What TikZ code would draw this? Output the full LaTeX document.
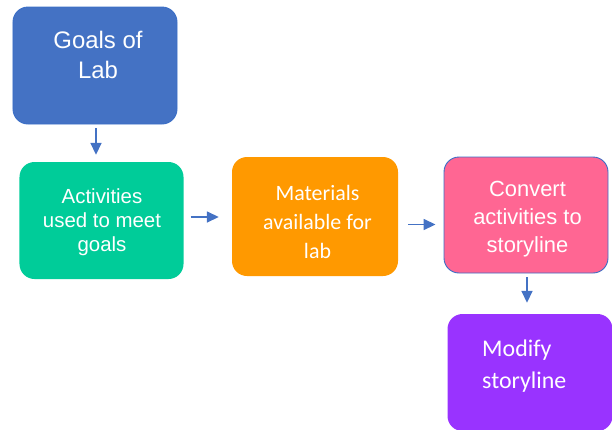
\documentclass[tikz,border=0pt]{standalone}
\usepackage{fontspec}
\setmainfont{Liberation Sans}
\newfontfamily\calibri{Carlito}
\usetikzlibrary{arrows.meta, positioning}
\definecolor{goalblue}{HTML}{4472C4}
\definecolor{edgeblue}{HTML}{3A6EC6}
\definecolor{actgreen}{HTML}{00CC99}
\definecolor{matorange}{HTML}{FF9900}
\definecolor{convpink}{HTML}{FF6693}
\definecolor{modpurple}{HTML}{9933FF}
\tikzset{x=1bp, y=-1bp,
    flowbox/.style={rounded corners=15bp, minimum width=164bp,
        minimum height=117bp, inner sep=0pt},
    edged/.style={draw=edgeblue, line width=0.9bp},
    boxtext/.style={text=white, align=center, inner sep=0pt, anchor=base},
    flowarrow/.style={draw=goalblue, line width=1.6bp,
        -{Triangle[length=12bp,width=11bp]}}}

\begin{document}
\begin{tikzpicture}
\clip (0,0) rectangle (612,429);
% boxes
\node[flowbox, edged, fill=goalblue]  (goals) at (95,65.5)    {};
\node[flowbox, fill=actgreen]         (act)   at (101.5,220.5) {};
\node[flowbox, fill=matorange, minimum width=166bp,
      minimum height=119bp]           (mat)   at (315,216.5)   {};
\node[flowbox, edged, fill=convpink,
      minimum height=116bp]           (conv)  at (526,215)     {};
\node[flowbox, fill=modpurple, minimum width=165bp] (mod) at (530,372.5) {};
% texts (placed at the baseline of the last line)
\node[boxtext, font=\fontsize{24}{30}\selectfont] (goalstext) at (98,78) {Goals of\\Lab};
\node[boxtext, font=\fontsize{20.5}{24}\selectfont] (acttext) at (102,251) {Activities\\used to meet\\goals};
\node[boxtext, font=\calibri\fontsize{22}{29}\selectfont] (mattext) at (317.5,258) {Materials\\available for\\lab};
\node[boxtext, font=\fontsize{22}{28}\selectfont] (convtext) at (527.5,252) {Convert\\activities to\\storyline};
\node[boxtext, align=left, anchor=base west,
      font=\calibri\fontsize{24}{32}\selectfont] (modtext) at (482,388) {Modify\\storyline};
% arrows
\draw[flowarrow, shorten <=4bp, shorten >=7bp]
    ([xshift=1bp]goals.south) -- ([xshift=1bp]goals.south |- act.north);
\draw[flowarrow, shorten <=7bp, shorten >=13bp]
    ([yshift=3.5bp]act.east) -- ([yshift=3.5bp]act.east -| mat.west);
\draw[flowarrow, shorten <=10bp, shorten >=8bp]
    ([yshift=-8bp]mat.east) -- ([yshift=-8bp]mat.east -| conv.west);
\draw[flowarrow, shorten <=4bp, shorten >=11bp]
    ([xshift=1bp]conv.south) -- ([xshift=1bp]conv.south |- mod.north);
\end{tikzpicture}
\end{document}
